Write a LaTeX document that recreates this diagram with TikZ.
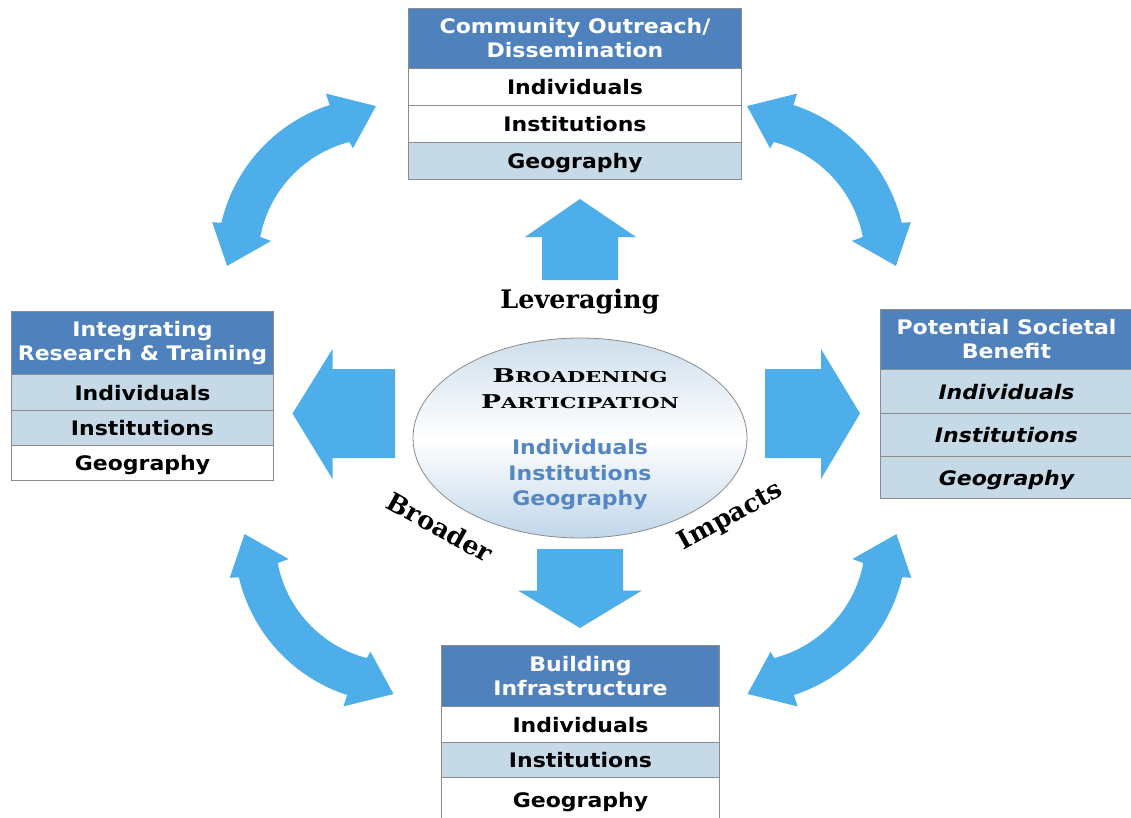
\documentclass[tikz,border=0pt]{standalone}
\usepackage{fontspec}
\usepackage{graphicx}
\setmainfont{DejaVu Sans}[FakeStretch=1.1]
\newfontfamily\serifb{DejaVu Serif}
\usetikzlibrary{shapes.geometric}
\definecolor{arrowblue}{RGB}{77,174,234}
\definecolor{hdrblue}{RGB}{79,129,189}
\definecolor{rowblue}{RGB}{197,217,231}
\definecolor{edgegray}{RGB}{140,140,140}
\definecolor{txtblue}{RGB}{84,134,196}
\definecolor{elltop}{RGB}{205,222,236}
\definecolor{ellbot}{RGB}{192,214,233}
\newcommand\cvarrow{%
  \fill[arrowblue] (252:163) -- (252:175) -- (268.5:154) -- (256.4:115) -- (255.4:122)
    arc[start angle=255.4, end angle=190.9, radius=122] -- (189.9:110.6) -- (177.8:153)
    -- (192.7:172) -- (193.2:163) arc[start angle=193.2, end angle=252, radius=163] -- cycle;}
\begin{document}
\begin{tikzpicture}[x=1pt,y=-1pt,
  hdr/.style={draw=edgegray, line width=1pt, fill=hdrblue, text=white,
    font=\fontsize{20}{24}\selectfont\bfseries, align=center, inner sep=0pt, anchor=north west},
  cell/.style={draw=edgegray, line width=1pt, font=\fontsize{20}{24}\selectfont\bfseries,
    inner sep=0pt, anchor=north west, text height=15.5pt, text depth=0pt},
  icell/.style={cell, font=\fontsize{20}{24}\selectfont\bfseries\itshape},
  label/.style={font=\serifb\bfseries\fontsize{25.5}{28}\selectfont, inner sep=0pt},
  inner/.style={font=\fontsize{20}{24}\selectfont\bfseries, text=txtblue, inner sep=0pt, anchor=base}
]
\clip (0,0) rectangle (1131,818);
\fill[white] (0,0) rectangle (1131,818);

% curved double arrows
\begin{scope}[shift={(380,260)}]\cvarrow\end{scope}
\begin{scope}[shift={(743,260)}, xscale=-1]\cvarrow\end{scope}
\begin{scope}[shift={(397.5,540)}, yscale=-1]\cvarrow\end{scope}
\begin{scope}[shift={(743.5,540)}, xscale=-1, yscale=-1]\cvarrow\end{scope}

% block arrows
\fill[arrowblue] (580,199) -- (636,237) -- (618,237) -- (618,280) -- (542,280) -- (542,237) -- (525,237) -- cycle;
\fill[arrowblue] (580,628) -- (642,590.5) -- (623,590.5) -- (623,549) -- (537,549) -- (537,590.5) -- (518,590.5) -- cycle;
\fill[arrowblue] (292.5,413.5) -- (332.5,349) -- (332.5,369) -- (395,369) -- (395,458) -- (332.5,458) -- (332.5,479) -- cycle;
\fill[arrowblue] (860,413.5) -- (821,349) -- (821,369) -- (765,369) -- (765,458) -- (821,458) -- (821,479) -- cycle;

% central ellipse
\node[ellipse, draw=edgegray, line width=0.8pt, minimum width=334pt, minimum height=200pt,
  top color=elltop, bottom color=ellbot, middle color=white] (bp) at (580,438) {};
\node[font=\serifb\bfseries, anchor=base, inner sep=0pt] (bp1) at (580,382)
  {\scalebox{1.4}[1]{\fontsize{19}{19}\selectfont B\fontsize{15}{15}\selectfont ROADENING}};
\node[font=\serifb\bfseries, anchor=base, inner sep=0pt] (bp2) at (580,408)
  {\scalebox{1.4}[1]{\fontsize{19}{19}\selectfont P\fontsize{15}{15}\selectfont ARTICIPATION}};
\node[inner] (bi1) at (580,454.5) {Individuals};
\node[inner] (bi2) at (580,480) {Institutions};
\node[inner] (bi3) at (580,505) {Geography};

% labels
\node[label, anchor=base] (lev) at (580,308) {Leveraging};
\node[label, rotate=-29] (bro) at (440,527) {Broader};
\node[label, rotate=29] (imp) at (731,517) {Impacts};

% top box
\node[hdr, minimum width=333pt, minimum height=60pt] (th) at (408,8) {Community Outreach/\\Dissemination};
\node[cell, fill=white, minimum width=333pt, minimum height=37pt] (t1) at (408,68) {Individuals};
\node[cell, fill=white, minimum width=333pt, minimum height=37pt] (t2) at (408,105) {Institutions};
\node[cell, fill=rowblue, minimum width=333pt, minimum height=37pt] (t3) at (408,142) {Geography};

% left box
\node[hdr, minimum width=262pt, minimum height=63pt] (lh) at (11,311) {Integrating\\Research \& Training};
\node[cell, fill=rowblue, minimum width=262pt, minimum height=36pt] (l1) at (11,374) {Individuals};
\node[cell, fill=rowblue, minimum width=262pt, minimum height=35pt] (l2) at (11,410) {Institutions};
\node[cell, fill=white, minimum width=262pt, minimum height=35pt] (l3) at (11,445) {Geography};

% right box
\node[hdr, minimum width=252pt, minimum height=60pt] (rh) at (880,309) {Potential Societal\\Benefit};
\node[icell, fill=rowblue, minimum width=252pt, minimum height=44pt] (r1) at (880,369) {Individuals};
\node[icell, fill=rowblue, minimum width=252pt, minimum height=43pt] (r2) at (880,413) {Institutions};
\node[icell, fill=rowblue, minimum width=252pt, minimum height=42pt] (r3) at (880,456) {Geography};

% bottom box
\node[hdr, minimum width=278pt, minimum height=61pt] (bh) at (441,645) {Building\\Infrastructure};
\node[cell, fill=white, minimum width=278pt, minimum height=36pt] (b1) at (441,706) {Individuals};
\node[cell, fill=rowblue, minimum width=278pt, minimum height=35pt] (b2) at (441,742) {Institutions};
\node[cell, fill=white, minimum width=278pt, minimum height=45pt] (b3) at (441,777) {Geography};
\end{tikzpicture}
\end{document}
